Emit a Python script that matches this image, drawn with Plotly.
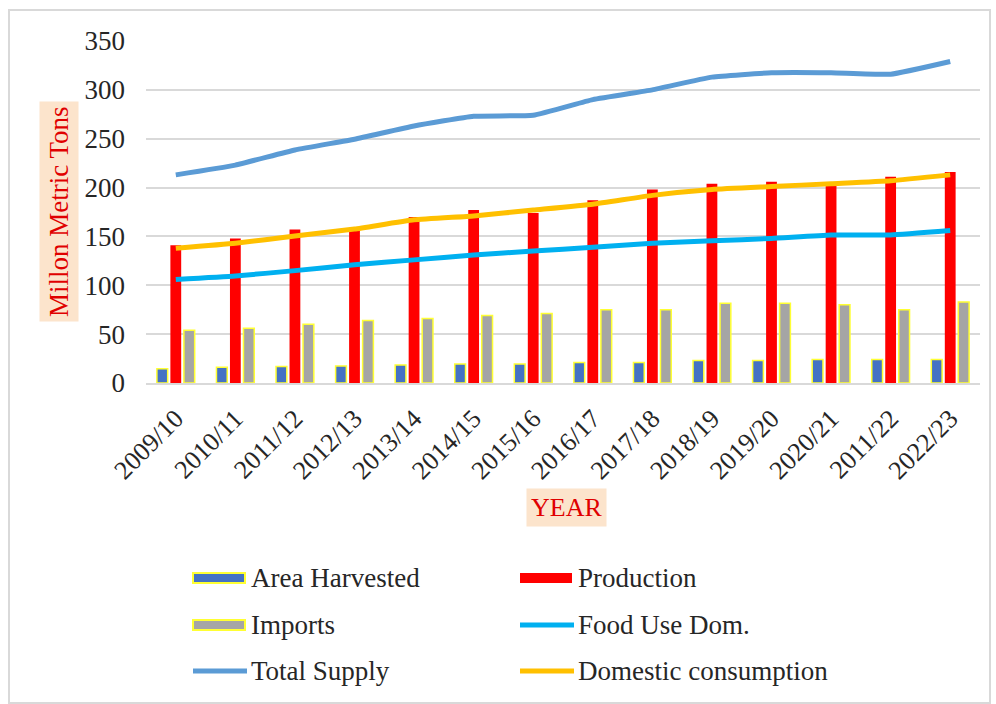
import plotly.graph_objects as go

# Marketing years and series (million metric tons / million ha)
years = ["2009/10", "2010/11", "2011/12", "2012/13", "2013/14", "2014/15", "2015/16",
         "2016/17", "2017/18", "2018/19", "2019/20", "2020/21", "2011/22", "2022/23"]
area_harvested = [14.5, 16, 17, 17.5, 18.5, 19.5, 19.5, 21, 21, 23, 23, 24, 24, 24]
production = [141, 148, 157, 159, 170, 177, 174, 187, 198, 204, 206, 203, 211, 216]
imports = [54, 56, 60, 64, 66, 69, 71, 75, 75, 81.5, 81.5, 80, 75, 83]
food_use = [106, 109.5, 115, 121, 126, 131, 135, 139, 143, 145.5, 148, 151.5, 151.5, 156]
total_supply = [213, 223, 238.5, 249.5, 263, 273, 274, 290, 300, 313, 317.5, 317.5, 316, 329]
domestic_consumption = [138, 143, 150.5, 157.5, 167, 171, 177, 183, 192, 198, 201, 204, 207, 213]
y_ticks = [0, 50, 100, 150, 200, 250, 300, 350]

W, H = 996, 704
ML, MR, MT, MB = 146, 16, 41, 321
FONT = "Liberation Serif, Times New Roman, serif"

BLUE = "#4472C4"
RED = "#FF0000"
GRAY = "#A5A5A5"
YELLOW_EDGE = "#FFFF33"
SUPPLY = "#5B9BD5"
FOOD = "#00B0F0"
DOMESTIC = "#FFC000"
TEXT = "#262626"


def px_x(p):
    return (p - ML) / (W - ML - MR)


def px_y(p):
    return (H - MB - p) / (H - MT - MB)


fig = go.Figure()
fig.add_trace(go.Bar(x=years, y=area_harvested, name="Area Harvested",
                     marker=dict(color=BLUE, line=dict(color=YELLOW_EDGE, width=1.5))))
fig.add_trace(go.Bar(x=years, y=production, name="Production",
                     marker=dict(color=RED, line=dict(width=0))))
fig.add_trace(go.Bar(x=years, y=imports, name="Imports",
                     marker=dict(color=GRAY, line=dict(color=YELLOW_EDGE, width=1.5))))
fig.add_trace(go.Scatter(x=years, y=food_use, name="Food Use Dom.", mode="lines",
                         line=dict(color=FOOD, width=5, shape="spline", smoothing=0.4)))
fig.add_trace(go.Scatter(x=years, y=total_supply, name="Total Supply", mode="lines",
                         line=dict(color=SUPPLY, width=5, shape="spline", smoothing=0.4)))
fig.add_trace(go.Scatter(x=years, y=domestic_consumption, name="Domestic consumption",
                         mode="lines",
                         line=dict(color=DOMESTIC, width=5, shape="spline", smoothing=0.4)))

shapes = []
annotations = []

# Outer chart frame
shapes.append(dict(type="rect", xref="paper", yref="paper",
                   x0=px_x(9), x1=px_x(990), y0=px_y(10), y1=px_y(703),
                   line=dict(color="#D9D9D9", width=2), fillcolor="rgba(0,0,0,0)",
                   layer="below"))

# Legend drawn as two columns of wide swatches
legend_items = [
    ("Area Harvested", "bar", BLUE, YELLOW_EDGE, 193, 578),
    ("Production", "bar", RED, None, 520, 578),
    ("Imports", "bar", GRAY, YELLOW_EDGE, 193, 625),
    ("Food Use Dom.", "line", FOOD, None, 520, 625),
    ("Total Supply", "line", SUPPLY, None, 193, 671),
    ("Domestic consumption", "line", DOMESTIC, None, 520, 671),
]
for label, kind, color, edge, lx, ly in legend_items:
    if kind == "bar":
        shapes.append(dict(type="rect", xref="paper", yref="paper",
                           x0=px_x(lx), x1=px_x(lx + 52), y0=px_y(ly + 5), y1=px_y(ly - 5),
                           fillcolor=color,
                           line=dict(color=edge if edge else color, width=2 if edge else 0)))
    else:
        shapes.append(dict(type="line", xref="paper", yref="paper",
                           x0=px_x(lx), x1=px_x(lx + 54), y0=px_y(ly), y1=px_y(ly),
                           line=dict(color=color, width=5)))
    annotations.append(dict(text=label, xref="paper", yref="paper",
                            x=px_x(lx + 56), y=px_y(ly), xanchor="left", yanchor="middle",
                            showarrow=False, font=dict(family=FONT, size=27, color=TEXT)))

# Axis titles on a peach background
annotations.append(dict(text="Millon Metric Tons", xref="paper", yref="paper",
                        x=px_x(59), y=px_y(212), textangle=-90, showarrow=False,
                        xanchor="center", yanchor="middle",
                        font=dict(family=FONT, size=27, color="#E00000"),
                        bgcolor="#FCE4CC", borderpad=4))
annotations.append(dict(text="YEAR", xref="paper", yref="paper",
                        x=px_x(566), y=px_y(507), showarrow=False,
                        xanchor="center", yanchor="middle",
                        font=dict(family=FONT, size=26, color="#E00000"),
                        bgcolor="#FCE4CC", borderpad=4))

fig.update_layout(
    width=W, height=H,
    margin=dict(l=ML, r=MR, t=MT, b=MB),
    paper_bgcolor="white", plot_bgcolor="white",
    barmode="group", bargap=0.32, bargroupgap=0.2,
    showlegend=False,
    font=dict(family=FONT, color=TEXT),
    shapes=shapes, annotations=annotations,
)
fig.update_xaxes(type="category", tickangle=-45, showgrid=False,
                 showline=True, linecolor="#D9D9D9", linewidth=2,
                 ticks="outside", ticklen=8, tickcolor="rgba(0,0,0,0)",
                 tickfont=dict(family=FONT, size=26, color=TEXT))
fig.update_yaxes(range=[0, 350], tickvals=y_ticks, showgrid=True,
                 gridcolor="#D9D9D9", gridwidth=2, zeroline=False, showline=False,
                 ticks="", ticklabelstandoff=20,
                 tickfont=dict(family=FONT, size=27, color=TEXT))

fig.write_html("out.html")
